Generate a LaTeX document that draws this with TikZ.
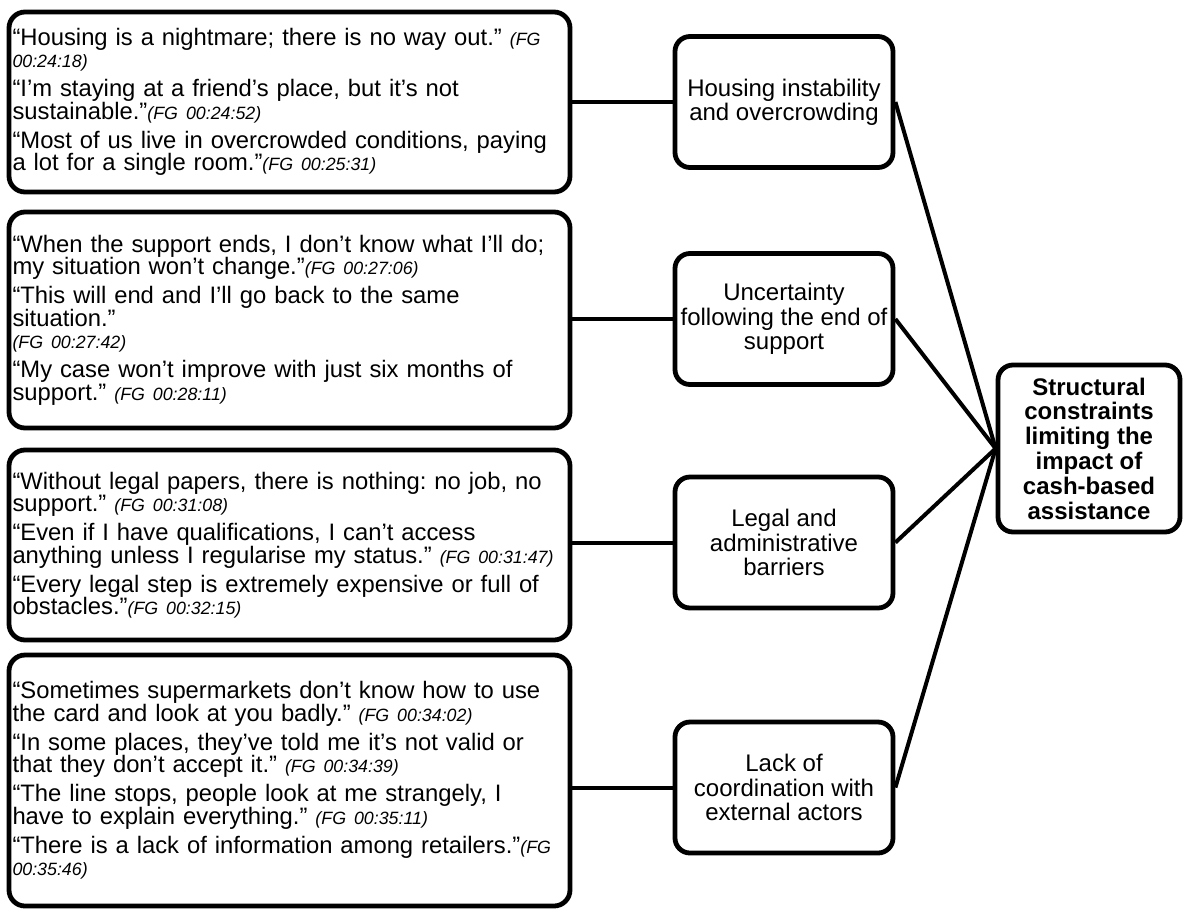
\documentclass[tikz,border=0pt]{standalone}
\usepackage{fontspec}
\setmainfont{Liberation Sans}
\frenchspacing

% focus-group time stamps after each quotation
\newcommand{\fgref}[1]{{\fontsize{8.9pt}{11.25pt}\selectfont\itshape #1}}
\newcommand{\qgap}{\\[3.25pt]}

\tikzset{
  quotebox/.style={draw, line width=2.4pt, rounded corners=8pt,
    text width=277pt, inner xsep=1.75pt, inner ysep=0pt, align=left,
    font={\fontsize{11.9pt}{11.25pt}\selectfont}},
  themebox/.style={draw, line width=2.4pt, rounded corners=7.5pt,
    minimum width=109pt, minimum height=65.5pt, inner sep=1pt, align=center,
    font={\fontsize{12pt}{12.2pt}\selectfont}},
  corebox/.style={draw, line width=2.4pt, rounded corners=7.5pt,
    minimum width=91pt, minimum height=83.5pt, inner sep=1pt, align=center,
    font={\fontsize{12pt}{12.4pt}\selectfont\bfseries}},
  conn/.style={draw, line width=2pt}
}

\begin{document}
\begin{tikzpicture}[x=0.5pt, y=-0.5pt]
\useasboundingbox (0,0) rectangle (1183,911);

% quotation boxes
\node[quotebox, minimum height=90pt] (q1) at (289.5,102) {%
“Housing is a nightmare; there is no way out.” \fgref{(FG}\\
\fgref{00:24:18)}\qgap
“I’m staying at a friend’s place, but it’s not\\
sustainable.”\fgref{(FG 00:24:52)}\qgap
“Most of us live in overcrowded conditions, paying\\
a lot for a single room.”\fgref{(FG 00:25:31)}};

\node[quotebox, minimum height=108pt] (q2) at (289.5,320) {%
“When the support ends, I don’t know what I’ll do;\\
my situation won’t change.”\fgref{(FG 00:27:06)}\qgap
“This will end and I’ll go back to the same\\
situation.”\\
\fgref{(FG 00:27:42)}\qgap
“My case won’t improve with just six months of\\
support.” \fgref{(FG 00:28:11)}};

\node[quotebox, minimum height=95pt] (q3) at (289.5,545) {%
“Without legal papers, there is nothing: no job, no\\
support.” \fgref{(FG 00:31:08)}\qgap
“Even if I have qualifications, I can’t access\\
anything unless I regularise my status.” \fgref{(FG 00:31:47)}\qgap
“Every legal step is extremely expensive or full of\\
obstacles.”\fgref{(FG 00:32:15)}};

\node[quotebox, minimum height=125.5pt] (q4) at (289.5,780.5) {%
“Sometimes supermarkets don’t know how to use\\
the card and look at you badly.” \fgref{(FG 00:34:02)}\qgap
“In some places, they’ve told me it’s not valid or\\
that they don’t accept it.” \fgref{(FG 00:34:39)}\qgap
“The line stops, people look at me strangely, I\\
have to explain everything.” \fgref{(FG 00:35:11)}\qgap
“There is a lack of information among retailers.”\fgref{(FG}\\
\fgref{00:35:46)}};

% themes
\node[themebox] (m1) at (784,102) {Housing instability\\and overcrowding};
\node[themebox] (m2) at (784,319) {Uncertainty\\following the end of\\support};
\node[themebox] (m3) at (784,542.5) {Legal and\\administrative\\barriers};
\node[themebox] (m4) at (784,787.5) {Lack of\\coordination with\\external actors};

% overarching category
\node[corebox] (core) at (1089,448.5) {Structural\\constraints\\limiting the\\impact of\\cash-based\\assistance};

% quotations to themes
\draw[conn] (m1.west) -- (m1.west -| q1.east);
\draw[conn] (m2.west) -- (m2.west -| q2.east);
\draw[conn] (m3.west) -- (m3.west -| q3.east);
\draw[conn] (m4.west) -- (m4.west -| q4.east);

% themes to category
\draw[conn] (m1.east) -- (core.west);
\draw[conn] (m2.east) -- (core.west);
\draw[conn] (m3.east) -- (core.west);
\draw[conn] (m4.east) -- (core.west);
\end{tikzpicture}
\end{document}
